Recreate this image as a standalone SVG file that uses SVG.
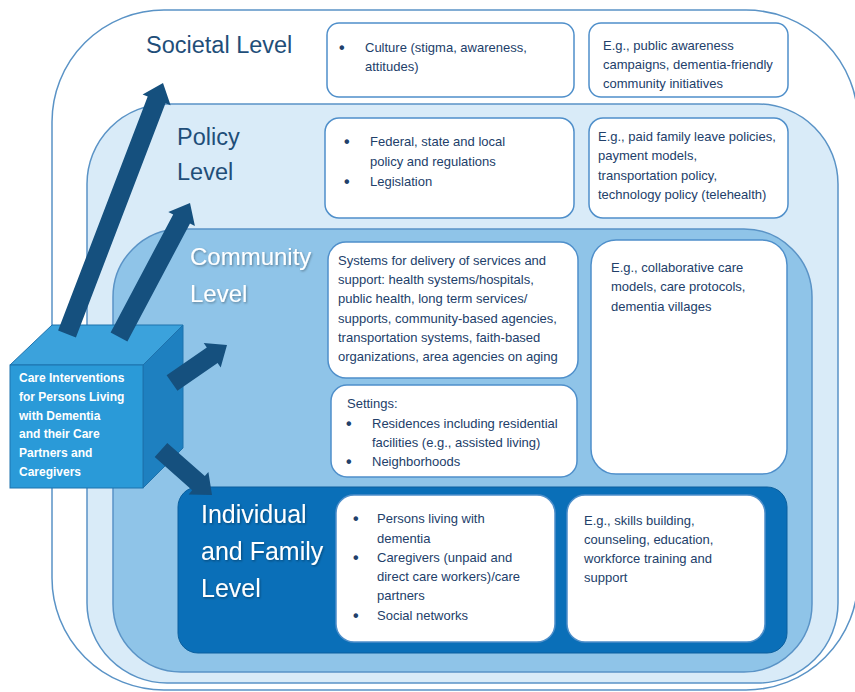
<svg xmlns="http://www.w3.org/2000/svg" width="855" height="692" viewBox="0 0 855 692">
<defs>
<style>
.lvl{stroke:#5a93c6;stroke-width:1.5}
.box{fill:#ffffff;stroke:#4f8fca;stroke-width:1.5}
.title{font-family:"Liberation Sans",Arial,sans-serif;font-size:23.5px;fill:#1f4e79}
.wtitle{font-family:"Liberation Sans",Arial,sans-serif;fill:#ffffff;filter:url(#sh)}
.t{font-family:"Liberation Sans",Arial,sans-serif;font-size:13px;fill:#22406a}
.b{font-family:"Liberation Sans",Arial,sans-serif;font-size:16px;font-weight:bold;fill:#22406a}
.ct{font-family:"Liberation Sans",Arial,sans-serif;font-size:12px;font-weight:bold;fill:#ffffff}
.arrow{fill:#15507e}
</style>
<filter id="sh" x="-10%" y="-20%" width="130%" height="150%">
<feDropShadow dx="1" dy="1.2" stdDeviation="0.8" flood-color="#000000" flood-opacity="0.35"/>
</filter>
</defs>
<rect width="855" height="692" fill="#ffffff"/>

<g id="societal">
<rect class="lvl" x="52" y="10" width="806" height="680" rx="112" fill="#ffffff"/>
<text class="title" x="146" y="53">Societal Level</text>
</g>
<g id="policy">
<rect class="lvl" x="87" y="104" width="751" height="579" rx="80" fill="#d9ebf8"/>
<text class="title" x="177" y="145">Policy</text>
<text class="title" x="177" y="180">Level</text>
</g>
<g id="community">
<rect class="lvl" x="113" y="229" width="699" height="443" rx="68" fill="#8fc4e8"/>
<text class="wtitle" x="190" y="265" font-size="24">Community</text>
<text class="wtitle" x="190" y="302" font-size="24">Level</text>
</g>
<g id="individual">
<rect x="178" y="487" width="609" height="166" rx="20" fill="#0a6fb8" stroke="#0a5f9e" stroke-width="1"/>
<text class="wtitle" x="201" y="523" font-size="25">Individual</text>
<text class="wtitle" x="201" y="560" font-size="25">and Family</text>
<text class="wtitle" x="201" y="597" font-size="25">Level</text>
</g>

<g id="societal-factors">
<rect class="box" x="327" y="23" width="247" height="74" rx="12"/>
<text class="b" x="339" y="53">•</text>
<text class="t" x="365" y="52">Culture (stigma, awareness,</text>
<text class="t" x="365" y="71">attitudes)</text>
</g>
<g id="societal-examples">
<rect class="box" x="589" y="23" width="199" height="74" rx="12"/>
<text class="t" x="603" y="50">E.g., public awareness</text>
<text class="t" x="603" y="69">campaigns, dementia-friendly</text>
<text class="t" x="603" y="88">community initiatives</text>
</g>
<g id="policy-factors">
<rect class="box" x="325" y="118" width="249" height="100" rx="14"/>
<text class="b" x="344" y="147">•</text>
<text class="t" x="370" y="146">Federal, state and local</text>
<text class="t" x="370" y="166">policy and regulations</text>
<text class="b" x="344" y="187">•</text>
<text class="t" x="370" y="186">Legislation</text>
</g>
<g id="policy-examples">
<rect class="box" x="589" y="118" width="199" height="100" rx="14"/>
<text class="t" x="598" y="141">E.g., paid family leave policies,</text>
<text class="t" x="598" y="160">payment models,</text>
<text class="t" x="598" y="180">transportation policy,</text>
<text class="t" x="598" y="199">technology policy (telehealth)</text>
</g>
<g id="community-systems">
<rect class="box" x="328" y="242" width="250" height="136" rx="18"/>
<text class="t" x="338" y="265">Systems for delivery of services and</text>
<text class="t" x="338" y="284">support: health systems/hospitals,</text>
<text class="t" x="338" y="303">public health, long term services/</text>
<text class="t" x="338" y="323">supports, community-based agencies,</text>
<text class="t" x="338" y="342">transportation systems, faith-based</text>
<text class="t" x="338" y="361">organizations, area agencies on aging</text>
</g>
<g id="community-settings">
<rect class="box" x="331" y="385" width="246" height="92" rx="16"/>
<text class="t" x="347" y="408">Settings:</text>
<text class="b" x="346" y="429">•</text>
<text class="t" x="372" y="428">Residences including residential</text>
<text class="t" x="372" y="447">facilities (e.g., assisted living)</text>
<text class="b" x="346" y="467">•</text>
<text class="t" x="372" y="466">Neighborhoods</text>
</g>
<g id="community-examples">
<rect class="box" x="591" y="240" width="196" height="234" rx="25"/>
<text class="t" x="611" y="272">E.g., collaborative care</text>
<text class="t" x="611" y="291">models, care protocols,</text>
<text class="t" x="611" y="311">dementia villages</text>
</g>
<g id="individual-factors">
<rect class="box" x="336" y="495" width="219" height="147" rx="18"/>
<text class="b" x="353" y="524">•</text>
<text class="t" x="377" y="523">Persons living with</text>
<text class="t" x="377" y="543">dementia</text>
<text class="b" x="353" y="563">•</text>
<text class="t" x="377" y="562">Caregivers (unpaid and</text>
<text class="t" x="377" y="581">direct care workers)/care</text>
<text class="t" x="377" y="600">partners</text>
<text class="b" x="353" y="621">•</text>
<text class="t" x="377" y="620">Social networks</text>
</g>
<g id="individual-examples">
<rect class="box" x="567" y="495" width="198" height="147" rx="18"/>
<text class="t" x="584" y="525">E.g., skills building,</text>
<text class="t" x="584" y="544">counseling, education,</text>
<text class="t" x="584" y="563">workforce training and</text>
<text class="t" x="584" y="582">support</text>
</g>

<g id="care-interventions">
<polygon points="10,365 52,325 183,325 143,365" fill="#3ba2dc" stroke="#1d72ad" stroke-width="1"/>
<polygon points="143,365 183,325 183,448 143,488" fill="#1e80c0" stroke="#1d72ad" stroke-width="1"/>
<rect x="10" y="365" width="133" height="123" fill="#2a9ad8" stroke="#1d72ad" stroke-width="1"/>
<text class="ct" x="19" y="382">Care Interventions</text>
<text class="ct" x="19" y="401">for Persons Living</text>
<text class="ct" x="19" y="420">with Dementia</text>
<text class="ct" x="19" y="438">and their Care</text>
<text class="ct" x="19" y="457">Partners and</text>
<text class="ct" x="19" y="476">Caregivers</text>
</g>

<g id="connectors">
<polygon class="arrow" points="58.1,330.6 147.7,96.4 142.6,94.4 163,83 170.6,105.2 165.5,103.2 75.9,337.4"/>
<polygon class="arrow" points="110.6,332.5 173.2,214.4 168.3,211.9 190,203 194.9,225.9 190,223.4 127.4,341.5"/>
<polygon class="arrow" points="166.6,375.2 206.8,347.4 203.7,342.9 227,345 220.7,367.5 217.6,363 177.4,390.8"/>
<polygon class="arrow" points="167.3,442.9 204.8,475.9 208.4,471.9 212,495 188.6,494.4 192.2,490.3 154.7,457.1"/>
</g>
</svg>
